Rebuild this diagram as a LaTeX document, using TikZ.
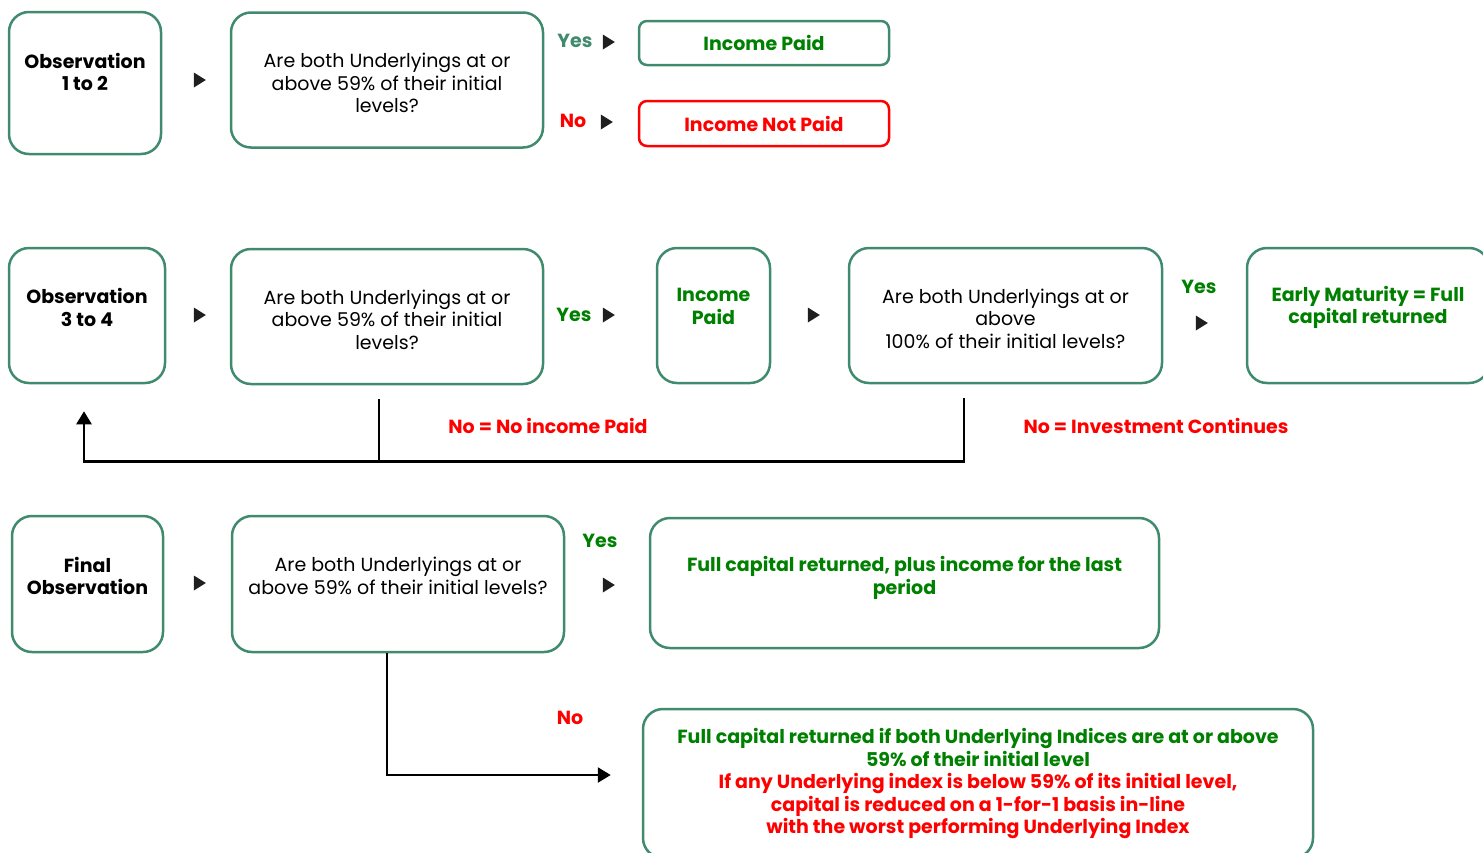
\documentclass[tikz,border=0pt]{standalone}
\usepackage{fontspec}
\setmainfont{Poppins}
\usetikzlibrary{arrows.meta,shapes.geometric,calc}
\definecolor{boxgreen}{RGB}{64,138,110}
\definecolor{txtgreen}{RGB}{0,128,0}
\definecolor{txtred}{RGB}{255,0,0}
\newcommand\lineW{2.5}
\newcommand\boxR{20}
\newcommand\txtSize{\fontsize{19}{22.5}\selectfont}

\tikzset{
  box/.style={draw=boxgreen, line width=\lineW, rounded corners=\boxR, inner sep=0, align=center, font=\txtSize},
  smallbox/.style={box, rounded corners=8, font=\txtSize\bfseries},
  boldtxt/.style={font=\txtSize\bfseries, align=center, inner sep=0},
  plaintxt/.style={font=\txtSize, align=center, inner sep=0},
  tri/.style={isosceles triangle, isosceles triangle stretches, fill=black!88, inner sep=0, minimum width=15, minimum height=12},
  conn/.style={line width=\lineW, black},
  tip/.style={-{Triangle[length=13,width=15]}}
}

\begin{document}
\begin{tikzpicture}[x=1pt, y=-1pt]
    \useasboundingbox (0,0) rectangle (1483,852);
    \clip (0,0) rectangle (1483,852);

    % row 1
    \node[box, minimum width=152, minimum height=142, label={[boldtxt, yshift=11]center:{Observation\\1 to 2}}] (obsA) at (85,83) {};
    \node[box, minimum width=312, minimum height=135, label={[plaintxt, yshift=-3]center:{Are both Underlyings at or\\above 59\% of their initial\\levels?}}] (qA) at (387,80) {};
    \node[boldtxt, text=boxgreen] (yesA) at (575,41) {Yes};
    \node[boldtxt, text=txtred] (noA) at (573,121) {No};
    \node[smallbox, text=txtgreen, minimum width=250, minimum height=44] (paidA) at (764,43) {Income Paid};
    \node[smallbox, draw=txtred, text=txtred, minimum width=250, minimum height=45] (notpaidA) at (764,123.5) {Income Not Paid};

    % row 2
    \node[box, minimum width=156, minimum height=135, label={[boldtxt, yshift=8]center:{Observation\\3 to 4}}] (obsB) at (87,315.5) {};
    \node[box, minimum width=312, minimum height=135, label={[plaintxt, yshift=-3]center:{Are both Underlyings at or\\above 59\% of their initial\\levels?}}] (qB) at (387,316.5) {};
    \node[boldtxt, text=txtgreen] (yesB) at (574,315) {Yes};
    \node[box, minimum width=113, minimum height=135, label={[boldtxt, text=txtgreen, yshift=9]center:{Income\\Paid}}] (paidB) at (713.5,315.5) {};
    \node[box, minimum width=313, minimum height=135, label={[plaintxt, yshift=-3]center:{Are both Underlyings at or\\above\\100\% of their initial levels?}}] (qC) at (1005.5,315.5) {};
    \node[boldtxt, text=txtgreen] (yesC) at (1199,287) {Yes};
    \node[box, minimum width=242, minimum height=135, label={[boldtxt, text=txtgreen, yshift=8]center:{Early Maturity = Full\\capital returned}}] (earlyB) at (1368,315.5) {};
    \node[boldtxt, text=txtred] (noincB) at (548,426) {No = No income Paid};
    \node[boldtxt, text=txtred] (investB) at (1156,426) {No = Investment Continues};

    % row 3
    \node[box, minimum width=151, minimum height=136, label={[boldtxt, yshift=8]center:{Final\\Observation}}] (obsC) at (87.5,584) {};
    \node[box, minimum width=332, minimum height=136, label={[plaintxt, yshift=8]center:{Are both Underlyings at or\\above 59\% of their initial levels?}}] (qD) at (398,584) {};
    \node[boldtxt, text=txtgreen] (yesD) at (600,541) {Yes};
    \node[box, minimum width=509, minimum height=130, label={[boldtxt, text=txtgreen, yshift=5]center:{Full capital returned, plus income for the last\\period}}] (fullC) at (904.5,583) {};
    \node[boldtxt, text=txtred] (noD) at (570,718) {No};
    \node[box, minimum width=670, minimum height=149, font=\txtSize\bfseries] (bigC) at (978,783.5) {%
      \textcolor{txtgreen}{Full capital returned if both Underlying Indices are at or above}\\
      \textcolor{txtgreen}{59\% of their initial level}\\
      \textcolor{txtred}{If any Underlying index is below 59\% of its initial level,}\\
      \textcolor{txtred}{capital is reduced on a 1-for-1 basis in-line}\\
      \textcolor{txtred}{with the worst performing Underlying Index}};

    % black markers
    \foreach \tx/\ty [count=\i] in {198/80, 607/42, 605/122, 198/315, 607/315, 812/315, 1200/323, 198/583, 607/585}{
      \node[tri] (tri\i) at (\tx,\ty) {};
    }

    % loop back to observation 3 to 4
    \coordinate (qBout) at ($(qB.south)+(-8,14)$);
    \coordinate (qCout) at ($(qC.south)+(-41.5,14)$);
    \coordinate (loopL) at ($(obsB.south)+(-3,77)$);
    \coordinate (obsBin) at ($(obsB.south)+(-3,27)$);
    \draw[conn] (qBout) -- (qBout |- loopL);
    \draw[conn, tip] (qCout) |- (loopL) -- (obsBin);

    % no branch of final observation
    \coordinate (bigIn) at ($(bigC.west)+(-31,-8.5)$);
    \draw[conn, tip] ($(qD.south)+(-11,0)$) |- (bigIn);

  \end{tikzpicture}
\end{document}
